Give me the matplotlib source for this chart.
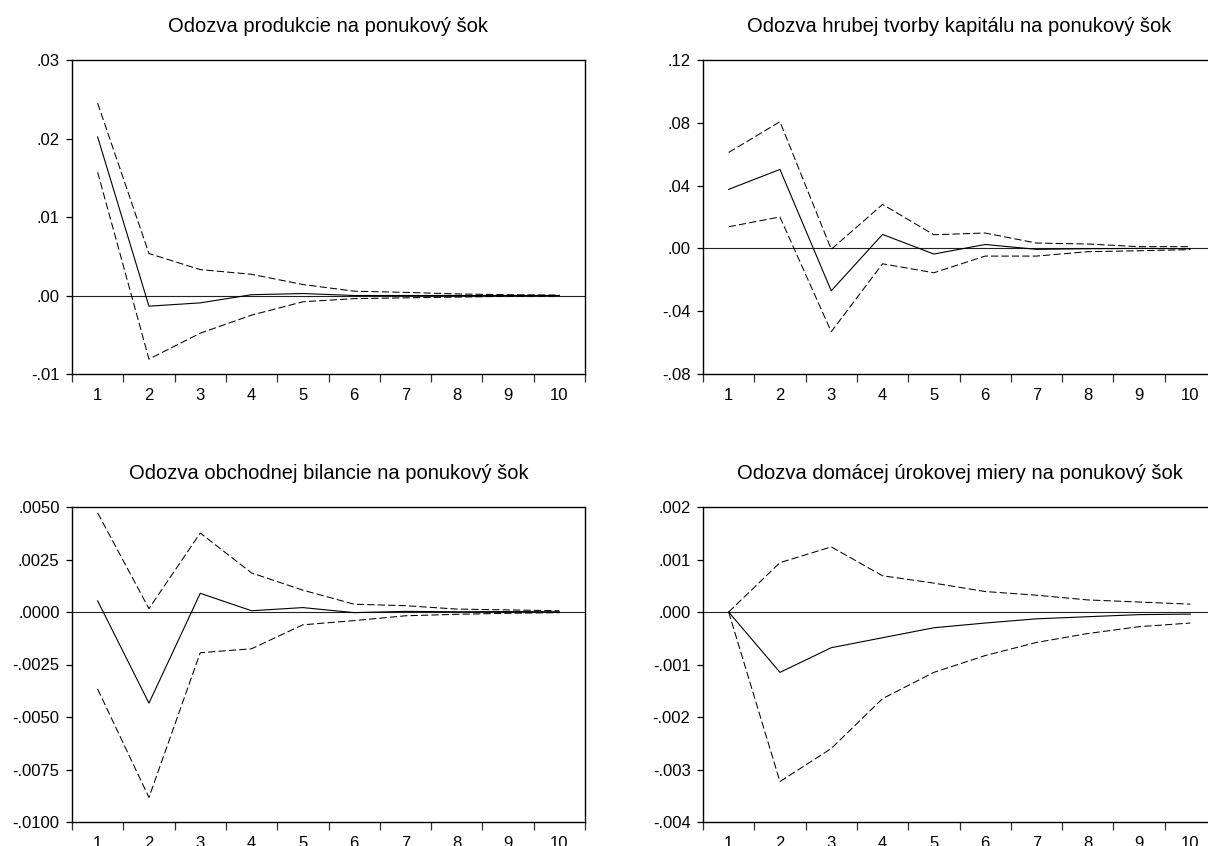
import matplotlib
matplotlib.use("Agg")
import matplotlib.pyplot as plt
from matplotlib.ticker import FixedLocator, NullFormatter, FixedFormatter

plt.rcParams["font.family"] = ["Liberation Sans", "DejaVu Sans"]

# Impulse-response horizons
periods = [1, 2, 3, 4, 5, 6, 7, 8, 9, 10]
period_labels = [str(p) for p in periods]

# Response of output
out_resp = [0.0202, -0.00136, -0.00094, 0.0001, 0.00025, 0.0, 0.0, 0.0, 0.0, 0.0]
out_upper = [0.0245, 0.00535, 0.0033, 0.0027, 0.0014, 0.00055, 0.0004, 0.0002, 0.0001, 0.00005]
out_lower = [0.0157, -0.0081, -0.0048, -0.0025, -0.0008, -0.0004, -0.0003, -0.0002, -0.0001, -0.00005]
out_ticks = [-0.01, 0.0, 0.01, 0.02, 0.03]
out_ticklabels = ["-.01", ".00", ".01", ".02", ".03"]

# Response of gross capital formation
inv_resp = [0.0376, 0.0503, -0.0270, 0.0089, -0.0036, 0.0025, -0.0006, -0.0002, 0.0, -0.0002]
inv_upper = [0.0611, 0.0807, -0.0006, 0.0280, 0.0087, 0.0098, 0.0034, 0.0028, 0.0011, 0.0011]
inv_lower = [0.0138, 0.0200, -0.0531, -0.0098, -0.0155, -0.0049, -0.0049, -0.0021, -0.0015, -0.0008]
inv_ticks = [-0.08, -0.04, 0.0, 0.04, 0.08, 0.12]
inv_ticklabels = ["-.08", "-.04", ".00", ".04", ".08", ".12"]

# Response of trade balance
tb_resp = [0.00053, -0.00434, 0.00089, 0.00006, 0.00021, -0.00003, 0.00003, 0.00001, 0.00002, 0.00001]
tb_upper = [0.00472, 0.00016, 0.00376, 0.00186, 0.00104, 0.00037, 0.0003, 0.00014, 0.0001, 0.00006]
tb_lower = [-0.00367, -0.00883, -0.00194, -0.00175, -0.00061, -0.00041, -0.00018, -0.00011, -0.00006, -0.00003]
tb_ticks = [-0.01, -0.0075, -0.005, -0.0025, 0.0, 0.0025, 0.005]
tb_ticklabels = ["-.0100", "-.0075", "-.0050", "-.0025", ".0000", ".0025", ".0050"]

# Response of domestic interest rate
ir_resp = [0.0, -0.00115, -0.00068, -0.00049, -0.0003, -0.00021, -0.00013, -0.00009, -0.00005, -0.00004]
ir_upper = [0.0, 0.00094, 0.00124, 0.00069, 0.00055, 0.00039, 0.00032, 0.00023, 0.00019, 0.00015]
ir_lower = [0.0, -0.00323, -0.0026, -0.00165, -0.00115, -0.00083, -0.00058, -0.00041, -0.00028, -0.00021]
ir_ticks = [-0.004, -0.003, -0.002, -0.001, 0.0, 0.001, 0.002]
ir_ticklabels = ["-.004", "-.003", "-.002", "-.001", ".000", ".001", ".002"]

titles = [
    "Odozva produkcie na ponukový šok",
    "Odozva hrubej tvorby kapitálu na ponukový šok",
    "Odozva obchodnej bilancie na ponukový šok",
    "Odozva domácej úrokovej miery na ponukový šok",
]

W, H = 1208, 846
fig = plt.figure(figsize=(W / 100, H / 100), dpi=100)
fig.patch.set_facecolor("white")


def px_axes(left, top, right, bottom):
    return fig.add_axes([left / W, 1 - bottom / H, (right - left) / W, (bottom - top) / H])


panels = [
    (px_axes(72, 60, 585, 374), out_resp, out_upper, out_lower, out_ticks, out_ticklabels, titles[0]),
    (px_axes(703, 60, 1216, 374), inv_resp, inv_upper, inv_lower, inv_ticks, inv_ticklabels, titles[1]),
    (px_axes(72, 507, 585, 822), tb_resp, tb_upper, tb_lower, tb_ticks, tb_ticklabels, titles[2]),
    (px_axes(703, 507, 1216, 822), ir_resp, ir_upper, ir_lower, ir_ticks, ir_ticklabels, titles[3]),
]

for ax, resp, upper, lower, yt, ytl, title in panels:
    ax.axhline(0, color="#222222", lw=0.8, zorder=1)
    ax.plot(periods, resp, color="black", lw=0.8, zorder=3)
    ax.plot(periods, upper, color="black", lw=0.75, dashes=(7, 3), zorder=2)
    ax.plot(periods, lower, color="black", lw=0.75, dashes=(7, 3), zorder=2)

    ax.set_xlim(0.5, 10.5)
    ax.set_ylim(yt[0], yt[-1])

    # category boundaries carry the tick marks, centres carry the labels
    ax.xaxis.set_major_locator(FixedLocator([p - 0.5 for p in periods] + [periods[-1] + 0.5]))
    ax.xaxis.set_major_formatter(NullFormatter())
    ax.xaxis.set_minor_locator(FixedLocator(periods))
    ax.xaxis.set_minor_formatter(FixedFormatter(period_labels))
    ax.tick_params(axis="x", which="major", direction="out", length=6, width=0.9, color="#333333")
    ax.tick_params(axis="x", which="minor", length=0, pad=10, labelsize=12)

    ax.set_yticks(yt)
    ax.set_yticklabels(ytl)
    ax.tick_params(axis="y", direction="out", length=4.5, width=0.9, pad=4.5, labelsize=12)

    for side in ["top", "bottom", "left", "right"]:
        ax.spines[side].set_linewidth(1.0)
        ax.spines[side].set_color("black")

    ax.set_title(title, fontsize=14.5, pad=20)

fig.savefig("out.png", dpi=100)
